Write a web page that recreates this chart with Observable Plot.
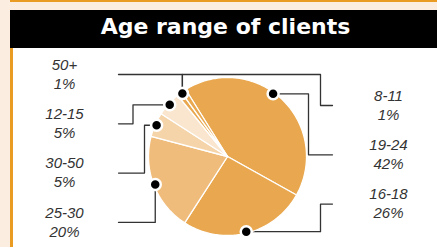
<!DOCTYPE html>
<html>
<head>
<meta charset="utf-8">
<script src="https://cdn.jsdelivr.net/npm/d3@7"></script>
<script src="https://cdn.jsdelivr.net/npm/@observablehq/plot@0.6"></script>
<style>
  html, body { margin: 0; padding: 0; background: #fbeee0; }
  #frame { position: absolute; left: 10px; top: 0; width: 427px; border-top: 2px solid #e99b22; }
  #title { margin-top: 8px; height: 38px; background: #000; color: #fff; box-sizing: border-box; padding-left: 4px;
           font: bold 22px "DejaVu Sans", sans-serif; text-align: center; line-height: 33px; }
  #chart { border-left: 3px solid #e99b22; background: #fff; height: 199px; }
  #chart svg { display: block; }
</style>
</head>
<body>
<div id="frame">
  <div id="title">Age range of clients</div>
  <div id="chart"></div>
</div>
<script>
// ---- data (clockwise order) ----
const ageGroups = ["19-24", "16-18", "25-30", "30-50", "12-15", "50+", "8-11"];
const shares = [42, 26, 20, 5, 5, 1, 1];
const leftLabels = ["50+", "12-15", "30-50", "25-30"];
const rightLabels = ["8-11", "19-24", "16-18"];

// ---- styles / layout ----
const sliceColor = {
  "19-24": "#e9a84f", "16-18": "#e9a84f", "25-30": "#f0bc7b",
  "30-50": "#f6d4a9", "12-15": "#fae6cf", "50+": "#e9a84f", "8-11": "#e9a84f"
};
const W = 424, H = 199;
const CX = 214, CY = 108, R = 79;      // pie centre (px in svg) and radius
const startDeg = -32;
const route = {
  "50+":   {type: "vertical", anchor: 1},
  "12-15": {type: "elbow", out: 15.5},
  "30-50": {type: "elbow", out: 4},
  "25-30": {type: "vertical"},
  "8-11":  {type: "rail", out: 14, anchor: 0},
  "19-24": {type: "elbow", out: 2, anchor: 0.45},
  "16-18": {type: "elbow", out: 14}
};
const leftTop = 82, rightTop = 51, rowStep = 49.3;
const leftTextX = -163, rightTextX = 161;
const leftEnd = -109, rightEnd = 105;

// ---- geometry from data ----
const total = d3.sum(shares);
let acc = startDeg;
const slices = ageGroups.map((g, i) => {
  const a0 = acc, a1 = acc + shares[i] / total * 360;
  acc = a1;
  return {group: g, share: shares[i], a0, a1};
});
const pt = (deg, r) => ({x: r * Math.sin(deg * Math.PI / 180), y: r * Math.cos(deg * Math.PI / 180)});

const piePoints = [];
for (const s of slices) {
  piePoints.push({group: s.group, ...pt(0, 0)});
  const n = Math.max(2, Math.ceil(s.a1 - s.a0));
  for (let k = 0; k <= n; k++) piePoints.push({group: s.group, ...pt(s.a0 + (s.a1 - s.a0) * k / n, R)});
  piePoints.push({group: s.group, ...pt(0, 0)});
}

const rowY = {};
leftLabels.forEach((g, i) => rowY[g] = {side: -1, y: leftTop - i * rowStep});
rightLabels.forEach((g, i) => rowY[g] = {side: 1, y: rightTop - i * rowStep});

const dots = [], leaders = [], texts = [];
for (const s of slices) {
  const rt = route[s.group];
  const f = rt.anchor ?? 0.5;
  const d = pt(s.a0 + (s.a1 - s.a0) * f, R - 1.5);
  dots.push(d);
  const {side, y} = rowY[s.group];
  const end = side < 0 ? leftEnd : rightEnd;
  let path;
  if (rt.type === "vertical") path = [d, {x: d.x, y}, {x: end, y}];
  else if (rt.type === "elbow") {
    const ex = side * (R + rt.out);
    path = [d, {x: ex, y: d.y}, {x: ex, y}, {x: end, y}];
  } else {
    const ex = side * (R + rt.out), ry = leftTop;
    path = [d, {x: d.x, y: ry}, {x: ex, y: ry}, {x: ex, y}, {x: end, y}];
  }
  path.forEach(p => leaders.push({group: s.group, ...p}));
  const tx = side < 0 ? leftTextX : rightTextX;
  texts.push({x: tx, y: y + 9.5, text: s.group});
  texts.push({x: tx, y: y - 9.5, text: s.share + "%"});
}

const chart = Plot.plot({
  width: W, height: H, margin: 0,
  x: {domain: [-CX, W - CX], axis: null},
  y: {domain: [-(H - CY), CY], axis: null},
  style: {background: "white", overflow: "visible"},
  marks: [
    Plot.line(leaders, {x: "x", y: "y", z: "group", stroke: "#333", strokeWidth: 1.3, curve: "linear"}),
    ...slices.map(s => Plot.line(piePoints.filter(p => p.group === s.group),
      {x: "x", y: "y", fill: sliceColor[s.group], stroke: "white", strokeWidth: 1.3, strokeLinejoin: "round", curve: "linear"})),
    Plot.dot(dots, {x: "x", y: "y", r: 5.5, fill: "black", stroke: "white", strokeWidth: 2.5}),
    Plot.text(texts, {x: "x", y: "y", text: "text", fontSize: 15, fontStyle: "italic",
      fontFamily: "Liberation Sans, Arial, sans-serif", fill: "#333", textAnchor: "middle"})
  ]
});
document.getElementById("chart").appendChild(chart);
</script>
</body>
</html>
